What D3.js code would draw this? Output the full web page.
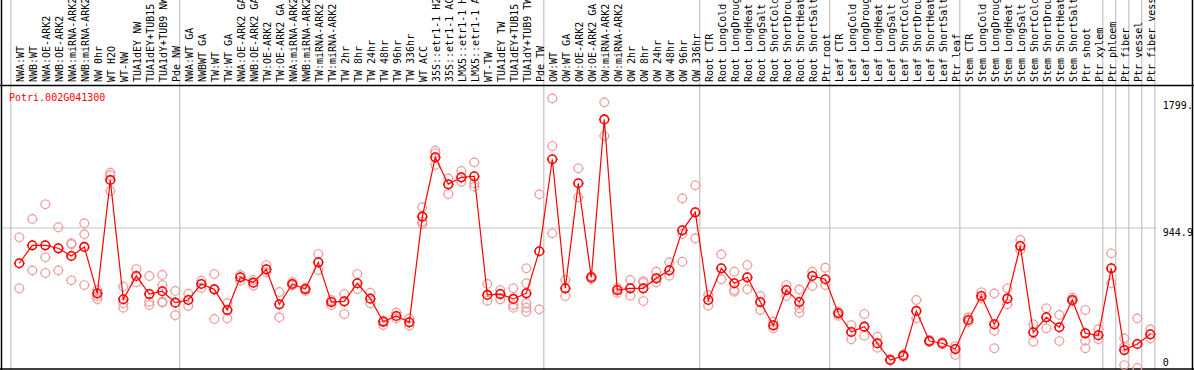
<!DOCTYPE html>
<html>
<head>
<meta charset="utf-8">
<script src="https://d3js.org/d3.v7.min.js"></script>
<style>
  body { margin: 0; background: #fff; }
  text { font-family: "DejaVu Sans Mono", monospace; font-size: 10px; }
</style>
</head>
<body>
<svg id="chart" width="1194" height="370"></svg>
<script>
var geneName = "Potri.002G041300";

var labels = [
  "NWA:WT", "NWB:WT", "NWA:OE-ARK2", "NWB:OE-ARK2", "NWA:miRNA-ARK2", "NWB:miRNA-ARK2",
  "NW 0hr", "WT H2O", "WT-NW", "TUA1dEY NW", "TUA1dEY+TUB15 NW", "TUA1dY+TUB9 NW", "Pde NW",
  "NWA:WT GA", "NWBWT GA", "TW:WT", "TW:WT GA", "NWA:OE-ARK2 GA", "NWB:OE-ARK2 GA",
  "TW:OE-ARK2", "TW:OE-ARK2 GA", "NWA:miRNA-ARK2 GA", "NWB:miRNA-ARK2 GA", "TW:miRNA-ARK2",
  "TW:miRNA-ARK2 GA", "TW 2hr", "TW 8hr", "TW 24hr", "TW 48hr", "TW 96hr", "TW 336hr",
  "WT ACC", "35S::etr1-1 H2O", "35S::etr1-1 ACC", "LMX5::etr1-1 H2O", "LMX5::etr1-1 ACC",
  "WT-TW", "TUA1dEY TW", "TUA1dEY+TUB15 TW", "TUA1dY+TUB9 TW", "Pde TW",
  "OW:WT", "OW:WT GA", "OW:OE-ARK2", "OW:OE-ARK2 GA", "OW:miRNA-ARK2", "OW:miRNA-ARK2 GA",
  "OW 2hr", "OW 8hr", "OW 24hr", "OW 48hr", "OW 96hr", "OW 336hr",
  "Root CTR", "Root LongCold", "Root LongDrought", "Root LongHeat", "Root LongSalt",
  "Root ShortCold", "Root ShortDrought", "Root ShortHeat", "Root ShortSalt", "Ptr root",
  "Leaf CTR", "Leaf LongCold", "Leaf LongDrought", "Leaf LongHeat", "Leaf LongSalt",
  "Leaf ShortCold", "Leaf ShortDrought", "Leaf ShortHeat", "Leaf ShortSalt", "Ptr leaf",
  "Stem CTR", "Stem LongCold", "Stem LongDrought", "Stem LongHeat", "Stem LongSalt",
  "Stem ShortCold", "Stem ShortDrought", "Stem ShortHeat", "Stem ShortSalt", "Ptr shoot",
  "Ptr xylem", "Ptr phloem", "Ptr fiber", "Ptr vessel", "Ptr fiber vessel"
];

// number of samples in each block between the grey separators
var groupSizes = [13, 28, 12, 10, 10, 11, 1, 1, 1, 1];

var means = [
  707, 828, 828, 808, 756, 817, 504, 1269, 464, 621, 499, 518, 441,
  459, 567, 531, 391, 612, 576, 666, 430, 567, 533, 713, 445, 450, 572, 468, 312, 351, 308,
  1021, 1422, 1240, 1287, 1294, 493, 499, 466, 504, 788,
  1409, 538, 1247, 612, 1678, 526, 538, 538, 605, 659, 929, 1051,
  459, 673, 572, 612, 445, 288, 526, 445, 621, 599,
  369, 243, 279, 167, 54, 83, 385, 182, 167, 128,
  324, 486, 295, 468, 823, 241, 342, 275, 459, 234, 221,
  673, 121, 162, 227
];

var replicates = [
  [882, 538], [1006, 659], [1105, 747, 641], [950, 659], [842, 835, 592], [977, 902, 560],
  [526, 486, 464], [1318, 1301, 1195], [549, 437, 407], [668, 578], [621, 447, 425],
  [628, 560, 447, 441], [520, 356],
  [501, 418], [589, 540], [634, 531, 331], [437, 335], [628, 589], [594, 555], [695, 646],
  [513, 342], [580, 556], [540, 520], [769, 661], [459, 425], [499, 364], [634, 533],
  [508, 437], [290, 320], [373, 335], [335, 285], [1085, 987, 972], [1467, 1449, 1370],
  [1280, 1174], [1330, 1257], [1388, 1247, 1224], [567, 454], [526, 464], [538, 425, 407],
  [673, 572, 437, 407, 380], [1172, 396],
  [1820, 1498, 909], [594, 486], [1348, 1152], [620, 600], [1793, 1566], [508, 540],
  [594, 488], [587, 576, 452], [650, 578], [713, 623], [1145, 904, 717], [1233, 875],
  [493, 420], [767, 599], [650, 526, 515], [695, 531], [486, 391], [312, 268], [560, 486],
  [531, 403, 373], [650, 553], [677, 560],
  [353, 380], [290, 194], [364, 218], [211, 137], [60, 50], [92, 75], [459, 335],
  [189, 175], [175, 160], [148, 88],
  [342, 310], [511, 470], [504, 252, 133], [538, 430], [864, 796], [295, 177], [403, 268],
  [358, 182], [474, 450], [391, 184, 133], [261, 194],
  [774, 572], [200, 144, 20], [335, 0], [261, 200]
];

var yMax = 1889.8;
var tickValues = [0, 944.9, 1799.6];
var tickLabels = ["0", "944.9", "1799."];
var gridValues = [944.9];

var W = 1194, H = 370;
var headerBottom = 85.5, plotBottom = 368;
var plotLeft = 10.8, colStep = 13;

var svg = d3.select("#chart");

var x = d3.scaleBand()
  .domain(d3.range(labels.length))
  .range([plotLeft, plotLeft + colStep * labels.length])
  .paddingInner(0).paddingOuter(0);

function cx(i) { return x(i) + 8.5; }

var y = d3.scaleLinear().domain([0, yMax]).range([plotBottom, 88]);

// grey block separators
var bounds = [0];
groupSizes.forEach(function(s) { bounds.push(bounds[bounds.length - 1] + s); });

var rightEdge = x(labels.length - 1) + x.bandwidth();

svg.append("g").selectAll("line")
  .data(bounds)
  .enter().append("line")
  .attr("x1", function(d) { return d < labels.length ? x(d) : rightEdge; })
  .attr("x2", function(d) { return d < labels.length ? x(d) : rightEdge; })
  .attr("y1", 0).attr("y2", H)
  .attr("stroke", "#c4c4c4").attr("stroke-width", 1.2);

svg.append("g").selectAll("line")
  .data(gridValues)
  .enter().append("line")
  .attr("x1", 2).attr("x2", rightEdge + 2)
  .attr("y1", function(d) { return y(d); })
  .attr("y2", function(d) { return y(d); })
  .attr("stroke", "#c4c4c4").attr("stroke-width", 1.2);

// sample names, rotated (long ones run past the top edge, as in the original)
svg.append("g").selectAll("text")
  .data(labels)
  .enter().append("text")
  .attr("transform", function(d, i) { return "translate(" + (cx(i) + 4.2) + ",82) rotate(-90)"; })
  .attr("fill", "#000")
  .text(function(d) { return d; });

// frame
svg.append("line").attr("x1", 1.5).attr("x2", 1.5).attr("y1", 0).attr("y2", H).attr("stroke", "#000").attr("stroke-width", 1.5);
svg.append("line").attr("x1", W - 1.5).attr("x2", W - 1.5).attr("y1", 0).attr("y2", H).attr("stroke", "#000").attr("stroke-width", 1.5);
svg.append("line").attr("x1", 0).attr("x2", W).attr("y1", headerBottom).attr("y2", headerBottom).attr("stroke", "#000").attr("stroke-width", 1.5);
svg.append("line").attr("x1", 0).attr("x2", W).attr("y1", H - 1).attr("y2", H - 1).attr("stroke", "#000").attr("stroke-width", 1.5);

// y labels on the right
svg.append("g").selectAll("text")
  .data(tickValues)
  .enter().append("text")
  .attr("x", rightEdge + 8)
  .attr("y", function(d) { return Math.min(y(d) + 7.8, 365.5); })
  .attr("fill", "#000")
  .text(function(d, i) { return tickLabels[i]; });

svg.append("text")
  .attr("x", 9).attr("y", 100.7)
  .attr("fill", "#ff0000")
  .text(geneName);

function marker(g, color, sw) {
  g.append("circle").attr("r", 4.3).attr("fill", "none").attr("stroke", color).attr("stroke-width", sw);
  g.append("path")
    .attr("d", "M0,-4.3V-5.4M0,4.3V5.4M-4.3,0H-5.4M4.3,0H5.4")
    .attr("stroke", color).attr("stroke-width", 1);
}

var repPoints = [];
replicates.forEach(function(r, i) {
  r.forEach(function(v) { repPoints.push({ i: i, v: v }); });
});

svg.append("g").selectAll("g")
  .data(repPoints)
  .enter().append("g")
  .attr("transform", function(d) { return "translate(" + cx(d.i) + "," + y(d.v) + ")"; })
  .each(function() { marker(d3.select(this), "#ee9c9c", 1.2); });

var line = d3.line()
  .x(function(d, i) { return cx(i); })
  .y(function(d) { return y(d); });

svg.append("path")
  .datum(means)
  .attr("d", line)
  .attr("fill", "none")
  .attr("stroke", "#ff0000")
  .attr("stroke-width", 1.2);

svg.append("g").selectAll("g")
  .data(means)
  .enter().append("g")
  .attr("transform", function(d, i) { return "translate(" + cx(i) + "," + y(d) + ")"; })
  .each(function() { marker(d3.select(this), "#ff0000", 1.6); });
</script>
</body>
</html>
